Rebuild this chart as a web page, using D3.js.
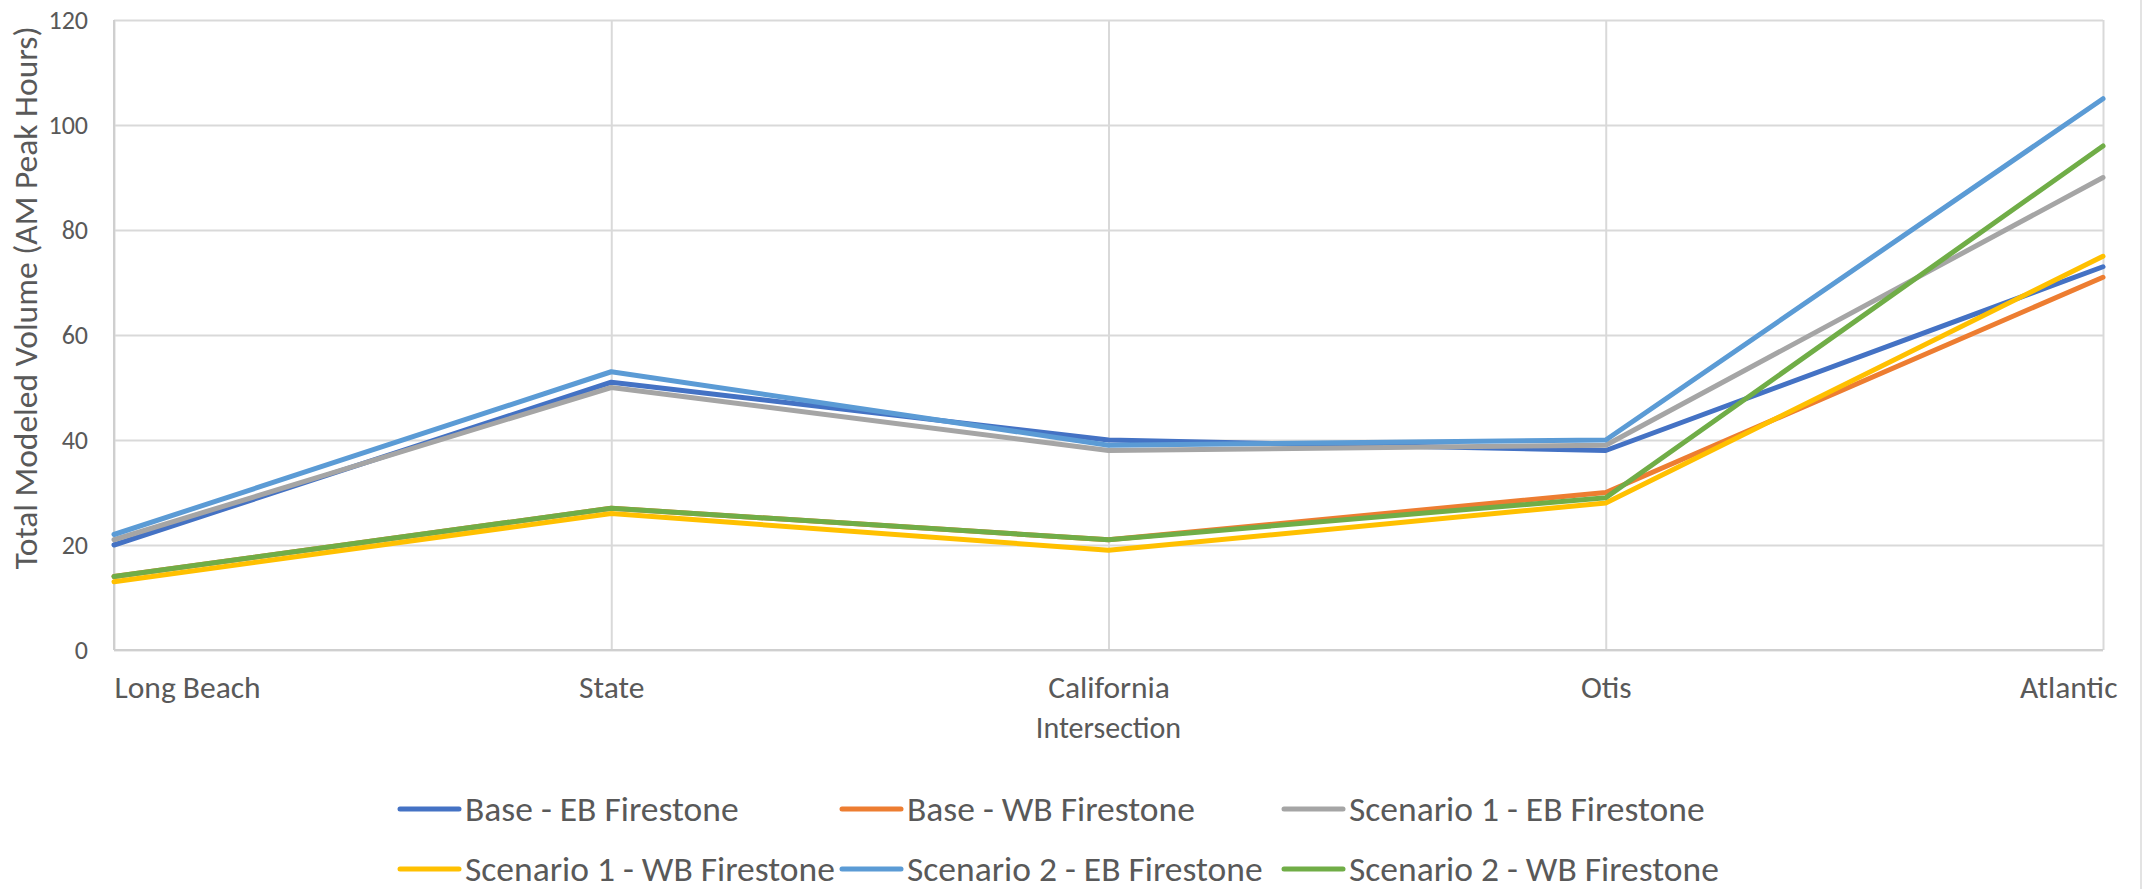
<!DOCTYPE html>
<html>
<head>
<meta charset="utf-8">
<script src="https://cdn.jsdelivr.net/npm/d3@7"></script>
<style>
  body { margin: 0; background: #fff; }
  text { font-family: Carlito, Calibri, Lato, sans-serif; fill: #595959; }
</style>
</head>
<body>
<script>
// Total modeled volume per intersection, AM peak hours

var intersections = ["Long Beach", "State", "California", "Otis", "Atlantic"];

var baseEB = [20, 51, 40, 38, 73],
    baseWB = [14, 27, 21, 30, 71],
    scen1EB = [21, 50, 38, 39, 90],
    scen1WB = [13, 26, 19, 28, 75],
    scen2EB = [22, 53, 39, 40, 105],
    scen2WB = [14, 27, 21, 29, 96];

var seriesNames = ["Base - EB Firestone", "Base - WB Firestone", "Scenario 1 - EB Firestone",
                   "Scenario 1 - WB Firestone", "Scenario 2 - EB Firestone", "Scenario 2 - WB Firestone"];
var seriesValues = [baseEB, baseWB, scen1EB, scen1WB, scen2EB, scen2WB];
var seriesColors = ["#4472C4", "#ED7D31", "#A5A5A5", "#FFC000", "#5B9BD5", "#70AD47"];

var yTicks = [0, 20, 40, 60, 80, 100, 120];

// note: "top" is taken by window.top, so plot edges get their own names
var w = 2143,
    h = 889,
    plotLeft = 114, plotRight = 2103,
    plotTop = 20, plotBottom = 650;

var svg = d3.select("body").append("svg")
    .attr("width", w)
    .attr("height", h);

var x = d3.scalePoint().domain(intersections).range([plotLeft, plotRight]);
var y = d3.scaleLinear().domain([0, 120]).range([plotBottom, plotTop]);

// horizontal grid + y labels
var yAxis = svg.append("g")
    .attr("transform", "translate(" + plotLeft + ",0)")
    .call(d3.axisLeft(y).tickValues(yTicks).tickSize(-(plotRight - plotLeft)).tickPadding(26));
yAxis.select(".domain").remove();
yAxis.selectAll("line").attr("stroke", "#d9d9d9").attr("stroke-width", 2);
yAxis.selectAll("text")
    .style("font-size", "26px")
    .attr("fill", "#595959");

// vertical grid + category labels
var xAxis = svg.append("g")
    .attr("transform", "translate(0," + plotBottom + ")")
    .call(d3.axisBottom(x).tickSize(-(plotBottom - plotTop)).tickPadding(26));
xAxis.select(".domain").remove();
xAxis.selectAll("line").attr("stroke", "#d9d9d9").attr("stroke-width", 2);
xAxis.selectAll("text")
    .style("font-size", "31.5px")
    .attr("fill", "#595959")
    .attr("dy", "0.71em")
    .attr("text-anchor", function(d, i){
        if(i == 0) return "start";
        if(i == intersections.length - 1) return "end";
        return "middle";
    })
    .attr("x", function(d, i){ return i == intersections.length - 1 ? 14 : 0; });

// axis lines
svg.append("line").attr("x1", plotLeft).attr("x2", plotLeft).attr("y1", plotTop).attr("y2", plotBottom)
    .attr("stroke", "#cfcfcf").attr("stroke-width", 2);
svg.append("line").attr("x1", plotLeft).attr("x2", plotRight).attr("y1", plotBottom).attr("y2", plotBottom)
    .attr("stroke", "#cfcfcf").attr("stroke-width", 2);

// faint edge on the right
svg.append("line").attr("x1", 2141).attr("x2", 2141).attr("y1", 0).attr("y2", h)
    .attr("stroke", "#e3e3e3").attr("stroke-width", 2);

var line = d3.line()
    .x(function(d, i){ return x(intersections[i]); })
    .y(function(d){ return y(d); });

svg.selectAll("path.series")
    .data(seriesValues)
    .enter().append("path")
    .attr("class", "series")
    .attr("d", line)
    .attr("fill", "none")
    .attr("stroke", function(d, i){ return seriesColors[i]; })
    .attr("stroke-width", 5)
    .attr("stroke-linejoin", "round")
    .attr("stroke-linecap", "round");

// axis titles
svg.append("text")
    .attr("transform", "translate(25,298) rotate(-90)")
    .attr("text-anchor", "middle")
    .attr("dy", "0.35em")
    .style("font-size", "33.5px")
    .text("Total Modeled Volume (AM Peak Hours)");

svg.append("text")
    .attr("x", (plotLeft + plotRight) / 2)
    .attr("y", 738)
    .attr("text-anchor", "middle")
    .style("font-size", "30px")
    .text("Intersection");

// legend, 3 per row
var legendX = [400, 842, 1284],
    legendY = [809, 869];

var legend = svg.selectAll("g.legend")
    .data(seriesNames)
    .enter().append("g")
    .attr("class", "legend")
    .attr("transform", function(d, i){
        return "translate(" + legendX[i % 3] + "," + legendY[Math.floor(i / 3)] + ")";
    });

legend.append("line")
    .attr("x1", 0).attr("x2", 59)
    .attr("stroke", function(d, i){ return seriesColors[i]; })
    .attr("stroke-width", 5)
    .attr("stroke-linecap", "round");

legend.append("text")
    .attr("x", 65)
    .attr("dy", "0.33em")
    .style("font-size", "35.5px")
    .text(function(d){ return d; });
</script>
</body>
</html>
